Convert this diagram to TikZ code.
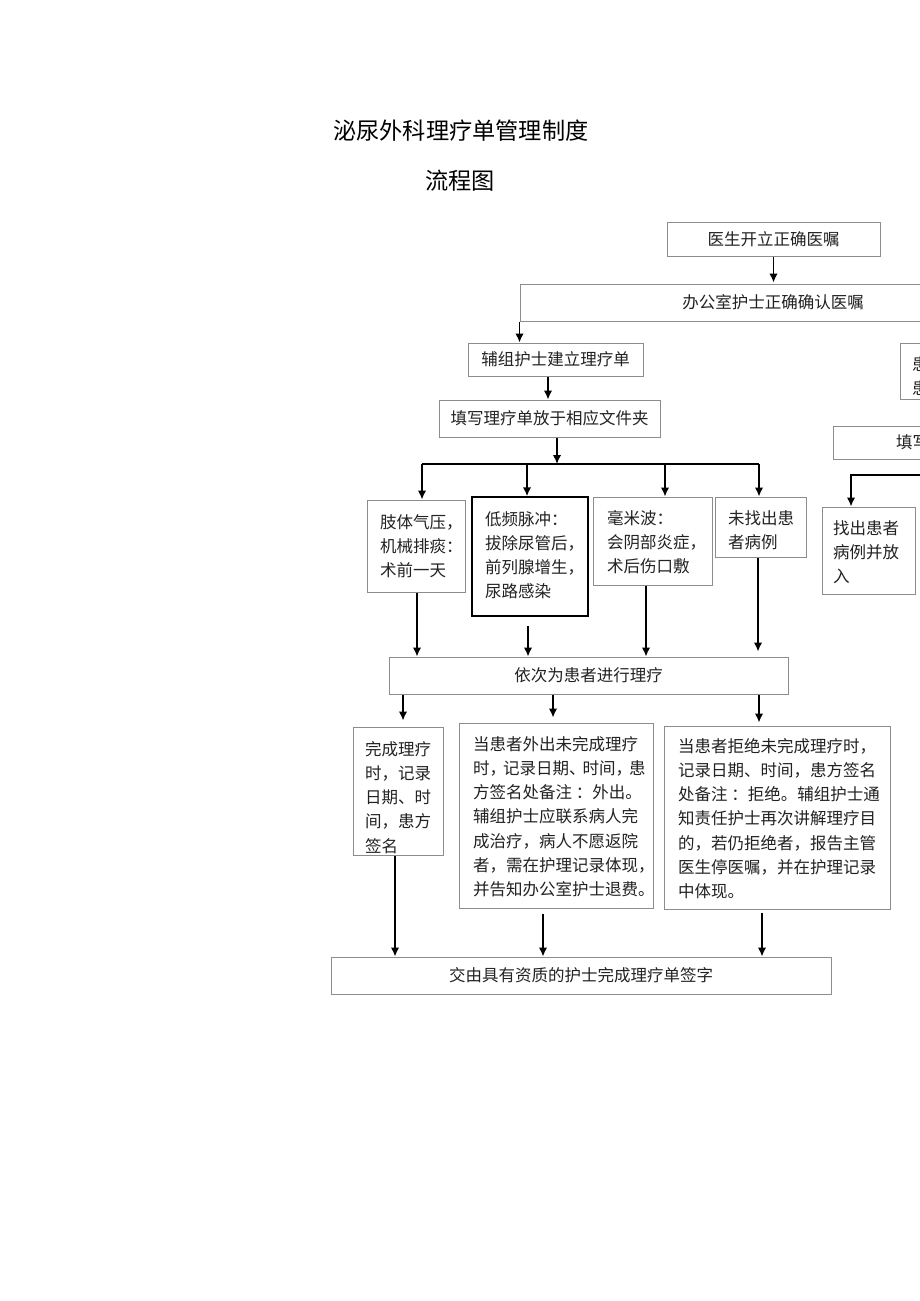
\documentclass[tikz,border=0pt]{standalone}
\usepackage{fontspec}
\newfontfamily\cjk{Noto Sans CJK SC}
\usetikzlibrary{arrows.meta}
\definecolor{boxgray}{HTML}{8C8C8C}
\definecolor{inkc}{HTML}{222222}
\begin{document}
\begin{tikzpicture}[x=1pt,y=-1pt,
  box/.style={draw=boxgray, line width=1pt, inner sep=0pt},
  boldbox/.style={draw=black, line width=1.5pt, inner sep=0pt},
  txt/.style={font=\cjk\fontsize{16.5}{24.2}\selectfont, text=inkc, inner sep=0pt, align=left, anchor=north west},
  ctxt/.style={font=\cjk\fontsize{16.5}{24.2}\selectfont, text=inkc, inner sep=0pt},
  ttl/.style={font=\cjk\fontsize{23.2}{28}\selectfont, text=black, inner sep=0pt, anchor=west},
  arr/.style={-{Latex[length=9pt,width=8.5pt]}, line width=1.6pt, black},
  ln/.style={line width=1.6pt, black}]
\useasboundingbox (0,0) rectangle (920,1301);
\fill[white] (0,0) rectangle (920,1301);
\clip (0,0) rectangle (920,1301);

% titles
\node[ttl] (title) at (333,131) {泌尿外科理疗单管理制度};
\node[ttl] (subtitle) at (425,181) {流程图};

% top chain
\node[box, minimum width=213pt, minimum height=34pt] (b1) at (773.5,239) {};
\node[ctxt] (t1) at (b1.center) {医生开立正确医嘱};
\node[box, minimum width=440pt, minimum height=37pt] (b2) at (740,302.5) {};
\node[ctxt] (t2) at (773,302.5) {办公室护士正确确认医嘱};
\node[box, minimum width=175pt, minimum height=33pt] (b3) at (555.5,359.5) {};
\node[ctxt] (t3) at (b3.center) {辅组护士建立理疗单};
\node[box, minimum width=221pt, minimum height=37pt] (b4) at (549.5,418.5) {};
\node[ctxt] (t4) at (b4.center) {填写理疗单放于相应文件夹};

% right side (cut by page edge, as in the reference)
\node[box, minimum width=60pt, minimum height=56pt] (huan) at (930,371) {};
\node[txt] (thuan) at (912,356) {患\\患};
\node[box, minimum width=127pt, minimum height=33pt] (tianxie) at (896.5,442.5) {};
\node[ctxt, anchor=west] (ttianxie) at (896,442.5) {填写};
\node[box, minimum width=93pt, minimum height=87pt] (zhaochu) at (868.5,550.5) {};
\node[txt] (tzhaochu) at (833,520) {找出患者\\病例并放\\入};

% row of therapies
\node[box, minimum width=98pt, minimum height=92pt] (zhiti) at (416,546) {};
\node[txt] (tzhiti) at (380,514) {肢体气压，\\机械排痰：\\术前一天};
\node[boldbox, minimum width=116pt, minimum height=119pt] (dipin) at (530,556.5) {};
\node[txt] (tdipin) at (485,511) {低频脉冲：\\拔除尿管后，\\前列腺增生，\\尿路感染};
\node[box, minimum width=119pt, minimum height=88pt] (haomi) at (652.5,541) {};
\node[txt] (thaomi) at (607,510) {毫米波：\\会阴部炎症，\\术后伤口敷};
\node[box, minimum width=91pt, minimum height=60pt] (weizhao) at (760.5,527) {};
\node[txt] (tweizhao) at (728,510) {未找出患\\者病例};

\node[box, minimum width=399pt, minimum height=37pt] (yici) at (588.5,675.5) {};
\node[ctxt] (tyici) at (yici.center) {依次为患者进行理疗};

% outcomes
\node[box, minimum width=90pt, minimum height=128pt] (wan) at (398,791) {};
\node[txt] (twan) at (365,741) {完成理疗\\时，记录\\日期、时\\间，患方\\签名};
\node[box, minimum width=194pt, minimum height=185pt] (mid) at (556,815.5) {};
\node[txt] (tmid) at (473,736) {当患者外出未完成理疗\\时，\kern-3pt记录日期、\kern-3pt时间，\kern-3pt患\\方签名处备注 ：外出。\\辅组护士应联系病人完\\成治疗，病人不愿返院\\者，需在护理记录体现，\\并告知办公室护士退费。};
\node[box, minimum width=226pt, minimum height=183pt] (rig) at (777,817.5) {};
\node[txt] (trig) at (678,738) {当患者拒绝未完成理疗时，\\记录日期、时间，患方签名\\处备注 ：拒绝。辅组护士通\\知责任护士再次讲解理疗目\\的，若仍拒绝者，报告主管\\医生停医嘱，并在护理记录\\中体现。};

\node[box, minimum width=500pt, minimum height=37pt] (fin) at (581,975.5) {};
\node[ctxt] (tfin) at (fin.center) {交由具有资质的护士完成理疗单签字};

% connectors
\draw[arr, shorten >=1pt] (b1.south) -- (b1.south |- b2.north);
\draw[arr] (b2.south west) -- (b2.south west |- b3.north);
\draw[arr] (b3.south -| 548,0) -- (b4.north -| 548,0);
\coordinate (busL) at (422,464);
\coordinate (busR) at (759,464);
\draw[arr] (b4.south -| 557,0) -- (busL -| 557,0);
\draw[ln] (busL) -- (busR);
\draw[arr] (busL) -- (zhiti.north -| busL);
\draw[arr] (busL -| 527,0) -- (dipin.north -| 527,0);
\draw[arr] (busL -| 665,0) -- (haomi.north -| 665,0);
\draw[arr] (busR) -- (weizhao.north -| busR);

\coordinate (rbus) at (851,475);
\draw[arr] (tianxie.south -| 940,0) |- (rbus) -- (rbus |- zhaochu.north);

\draw[arr] (zhiti.south -| 417,0) -- (yici.north -| 417,0);
\draw[arr, shorten <=9pt] (dipin.south -| 528,0) -- (yici.north -| 528,0);
\draw[arr] (haomi.south -| 646,0) -- (yici.north -| 646,0);
\draw[arr, shorten >=5pt] (weizhao.south -| 758,0) -- (yici.north -| 758,0);

\draw[arr, shorten >=6pt] (yici.south -| 403,0) -- (wan.north -| 403,0);
\draw[arr, shorten >=5pt] (yici.south -| 553,0) -- (mid.north -| 553,0);
\draw[arr, shorten >=3pt] (yici.south -| 759,0) -- (rig.north -| 759,0);

\draw[arr] (wan.south -| 395,0) -- (fin.north -| 395,0);
\draw[arr, shorten <=5pt] (mid.south -| 543,0) -- (fin.north -| 543,0);
\draw[arr, shorten <=3pt] (rig.south -| 762,0) -- (fin.north -| 762,0);
\end{tikzpicture}
\end{document}
